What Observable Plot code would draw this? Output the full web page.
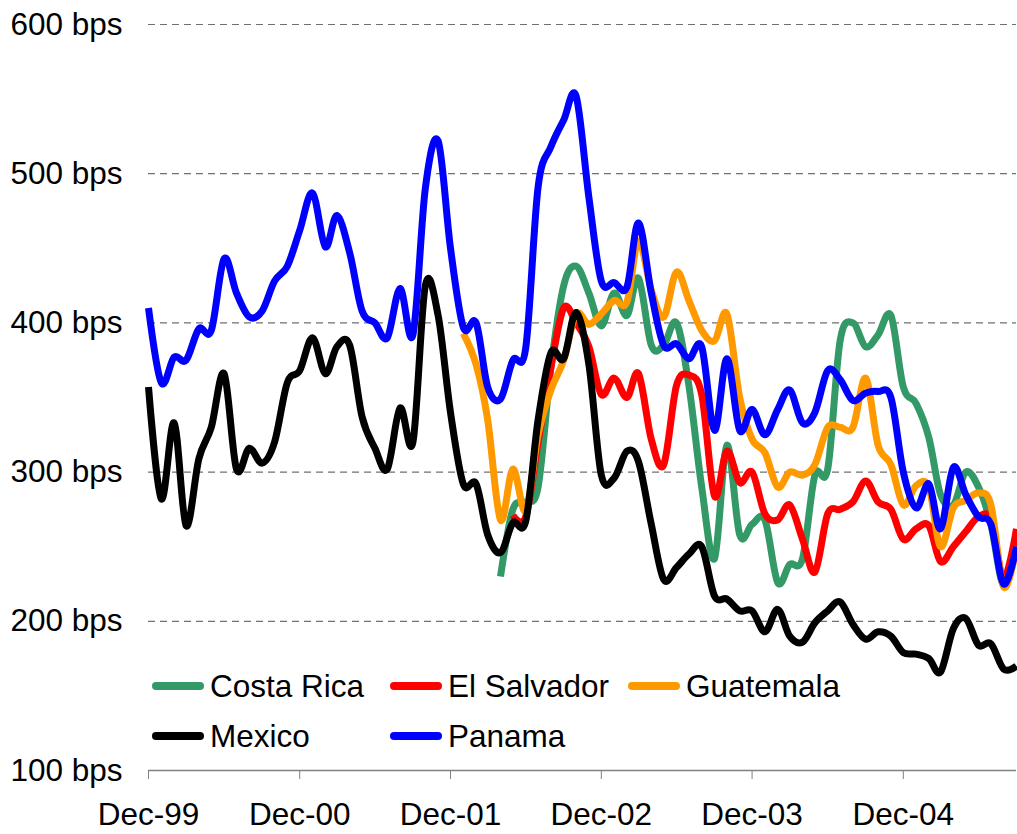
<!DOCTYPE html>
<html>
<head>
<meta charset="utf-8">
<script src="https://cdn.jsdelivr.net/npm/d3@7"></script>
<script src="https://cdn.jsdelivr.net/npm/@observablehq/plot@0.6"></script>
<style>
  html, body { margin: 0; padding: 0; background: #fff; }
  #wrap { position: relative; width: 1017px; height: 834px; font-family: "Liberation Sans", Arial, sans-serif; }
  #legend { position: absolute; left: 152px; top: 661px; display: grid; grid-template-columns: 238px 238px 238px; grid-auto-rows: 50px; }
  .item { display: flex; align-items: center; font-size: 31.5px; color: #000; white-space: nowrap; }
  .sw { width: 52px; height: 8px; border-radius: 4px; margin-right: 6px; flex: none; }
</style>
</head>
<body>
<div id="wrap"><div id="legend"></div></div>
<script>
// Series names and colours (drawing order: first at the bottom)
const seriesNames = ["Costa Rica", "El Salvador", "Guatemala", "Mexico", "Panama"];
const seriesColors = ["#339966", "#FF0000", "#FF9900", "#000000", "#0000FF"];

// Monthly spreads in bps; month index 0 = Dec-99
const costaRicaStart = 28;
const costaRica = [230, 275, 280, 290, 370, 425, 438, 420, 398, 420, 405, 430, 385, 385, 400, 358, 290, 242, 318, 258, 265, 268, 226, 238, 242, 298, 302, 388, 400, 384, 392, 405, 357, 346, 323, 285, 278, 300, 290, 265, 224, 255];

const elSalvadorStart = 29;
const elSalvador = [271, 270, 320, 370, 410, 400, 384, 352, 363, 350, 366, 322, 305, 358, 365, 352, 284, 314, 293, 300, 272, 268, 278, 255, 233, 272, 275, 280, 294, 280, 275, 255, 262, 264, 240, 250, 260, 270, 268, 229, 262];

const guatemalaStart = 25;
const guatemala = [393, 372, 335, 268, 302, 274, 325, 355, 375, 406, 399, 406, 415, 414, 455, 422, 404, 434, 415, 395, 388, 406, 350, 322, 313, 290, 300, 298, 305, 330, 330, 330, 363, 318, 305, 278, 291, 290, 250, 276, 281, 286, 278, 223, 250];

const mexicoStart = 0;
const mexico = [357, 282, 333, 264, 309, 330, 366, 302, 316, 306, 320, 360, 368, 390, 366, 384, 385, 337, 316, 302, 343, 320, 425, 405, 340, 292, 292, 258, 246, 266, 267, 335, 380, 376, 407, 372, 298, 296, 314, 307, 265, 228, 236, 245, 250, 217, 215, 207, 207, 193, 208, 190, 186, 199, 207, 213, 198, 188, 193, 190, 179, 178, 175, 166, 195, 202, 184, 185, 168, 170];

const panamaStart = 0;
const panama = [410, 360, 377, 375, 396, 395, 443, 420, 404, 408, 428, 438, 462, 487, 451, 472, 447, 408, 400, 390, 423, 392, 490, 522, 450, 397, 400, 357, 349, 375, 383, 491, 518, 536, 552, 484, 428, 427, 424, 467, 420, 385, 386, 376, 384, 328, 376, 328, 342, 325, 342, 355, 333, 340, 368, 362, 348, 353, 354, 350, 300, 276, 292, 262, 303, 285, 270, 265, 225, 250];

// Axis ticks
const yTicks = [100, 200, 300, 400, 500, 600];
const gridValues = [200, 300, 400, 500, 600];
const xTickLabels = ["Dec-99", "Dec-00", "Dec-01", "Dec-02", "Dec-03", "Dec-04"];
const firstMonth = new Date(Date.UTC(1999, 11, 1));
const lastMonthIndex = 69;

const monthDate = i => d3.utcMonth.offset(firstMonth, i);
const xTicks = xTickLabels.map((_, k) => monthDate(12 * k));

const seriesData = [
  [costaRicaStart, costaRica],
  [elSalvadorStart, elSalvador],
  [guatemalaStart, guatemala],
  [mexicoStart, mexico],
  [panamaStart, panama]
];

const rows = [];
seriesData.forEach(([start, vals], s) => {
  vals.forEach((v, i) => rows.push({series: seriesNames[s], date: monthDate(start + i), value: v}));
});

const lineMarks = seriesNames.map((name, s) =>
  Plot.line(rows.filter(d => d.series === name), {
    x: "date", y: "value", stroke: seriesColors[s], strokeWidth: 7,
    curve: "cardinal", strokeLinejoin: "round", strokeLinecap: "butt"
  })
);

const chart = Plot.plot({
  width: 1017,
  height: 834,
  marginLeft: 148,
  marginRight: 1,
  marginTop: 24,
  marginBottom: 64,
  style: {fontFamily: "'Liberation Sans', Arial, sans-serif", fontSize: "31.5px", color: "#000", background: "#fff"},
  x: {type: "utc", domain: [firstMonth, monthDate(lastMonthIndex)]},
  y: {domain: [100, 600]},
  marks: [
    Plot.ruleY(gridValues, {stroke: "#707070", strokeWidth: 1.2, strokeDasharray: "7,5"}),
    Plot.ruleY([100], {stroke: "#808080", strokeWidth: 1.5}),
    Plot.axisX({ticks: xTicks, tickFormat: (d, i) => xTickLabels[i], tickSize: 9, tickPadding: 23, stroke: "#808080", fill: "#000", label: null}),
    Plot.axisY({ticks: yTicks, tickFormat: d => `${d} bps`, tickSize: 0, tickPadding: 26, fill: "#000", label: null}),
    ...lineMarks
  ]
});

const wrap = document.getElementById("wrap");
wrap.insertBefore(chart, wrap.firstChild);

const legend = document.getElementById("legend");
const legendOrder = [0, 1, 2, 3, 4];
legendOrder.forEach(s => {
  const item = document.createElement("div");
  item.className = "item";
  const sw = document.createElement("span");
  sw.className = "sw";
  sw.style.background = seriesColors[s];
  item.appendChild(sw);
  item.appendChild(document.createTextNode(seriesNames[s]));
  legend.appendChild(item);
});
</script>
</body>
</html>
